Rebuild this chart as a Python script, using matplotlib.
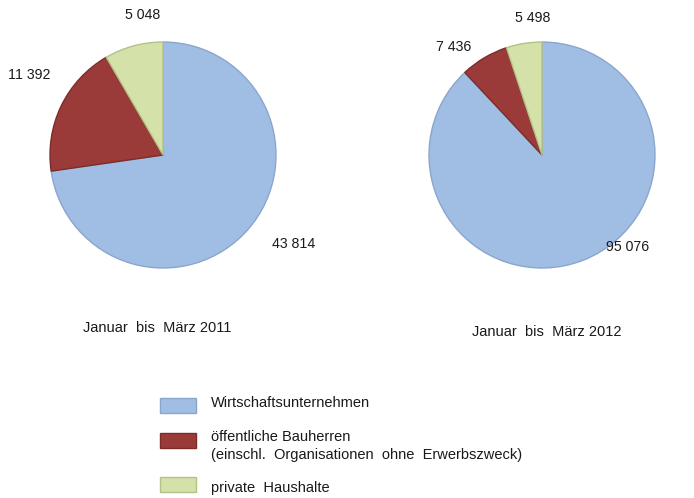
import matplotlib.pyplot as plt
from matplotlib.patches import Rectangle

plt.rcParams['font.family'] = ['Liberation Sans', 'DejaVu Sans']

# Data
categories = ['Wirtschaftsunternehmen',
              'öffentliche Bauherren\n(einschl.  Organisationen  ohne  Erwerbszweck)',
              'private  Haushalte']
values_2011 = [43814, 11392, 5048]
values_2012 = [95076, 7436, 5498]
labels_2011 = ['43 814', '11 392', '5 048']
labels_2012 = ['95 076', '7 436', '5 498']
titles = ['Januar  bis  März 2011', 'Januar  bis  März 2012']

colors = ['#a0bde3', '#9b3b39', '#d4e2a9']
edges = ['#8ba6cb', '#7c2c2a', '#b3c286']

W, H = 694, 498
fig = plt.figure(figsize=(W / 100, H / 100), dpi=100)

def px_axes(cx, cy, r):
    return fig.add_axes([(cx - r) / W, 1 - (cy + r) / H, 2 * r / W, 2 * r / H])

# label positions in pie radii (layout only)
lab_pos = [[(1.16, -0.79), (-1.18, 0.71), (-0.18, 1.24)],
           [(0.76, -0.81), (-0.78, 0.96), (-0.08, 1.21)]]
title_pos = [(157, 328), (547, 332)]

for k, (vals, labs, cx) in enumerate([(values_2011, labels_2011, 163),
                                       (values_2012, labels_2012, 542)]):
    ax = px_axes(cx, 155, 113)
    wedges, _ = ax.pie(vals, colors=colors, startangle=90, counterclock=False,
                       radius=1.0, wedgeprops=dict(linewidth=1.0))
    for w, ec in zip(wedges, edges):
        w.set_edgecolor(ec)
    ax.set_xlim(-1, 1)
    ax.set_ylim(-1, 1)
    ax.set_aspect('equal')
    ax.axis('off')
    for (x, y), t in zip(lab_pos[k], labs):
        ax.text(x, y, t, ha='center', va='center', fontsize=10.2, color='#1a1a1a',
                clip_on=False)
    tx, ty = title_pos[k]
    fig.text(tx / W, 1 - ty / H, titles[k], ha='center', va='center',
             fontsize=10.5, color='#1a1a1a')

# Legend drawn manually
box_y = [405, 440, 484]
text_y = [403, 446, 488]
for c, ec, lab, by, tyy in zip(colors, edges, categories, box_y, text_y):
    fig.add_artist(Rectangle((160 / W, 1 - (by + 7.5) / H), 36 / W, 15 / H,
                             transform=fig.transFigure, facecolor=c,
                             edgecolor=ec, linewidth=1.0))
    fig.text(211 / W, 1 - tyy / H, lab, ha='left', va='center', fontsize=10.5,
             color='#1a1a1a', linespacing=1.3)

fig.savefig('out.png', dpi=100)
